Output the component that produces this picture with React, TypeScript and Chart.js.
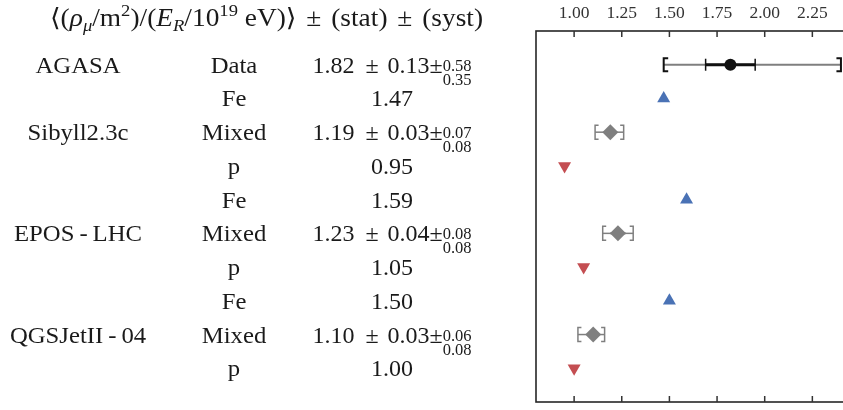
import { useEffect, useRef } from "react";
import { Chart, registerables } from "chart.js";

Chart.register(...registerables);

// ---------- data ----------
const modelNames = ["AGASA", "Sibyll2.3c", "EPOS\u2009-\u2009LHC", "QGSJetII\u2009-\u200904"];
const modelRows = [0, 2, 5, 8];
const rowLabels = ["Data", "Fe", "Mixed", "p", "Fe", "Mixed", "p", "Fe", "Mixed", "p"];
const rowValues = [1.82, 1.47, 1.19, 0.95, 1.59, 1.23, 1.05, 1.5, 1.1, 1.0];
const rowStat = [0.13, null, 0.03, null, null, 0.04, null, null, 0.03, null];
const rowSystUp = [0.58, null, 0.07, null, null, 0.08, null, null, 0.06, null];
const rowSystDown = [0.35, null, 0.08, null, null, 0.08, null, null, 0.08, null];
const xTicks = [1.0, 1.25, 1.5, 1.75, 2.0, 2.25];

const BLUE = "#4a72b5";
const RED = "#c44e52";
const GRAY = "#7f7f7f";
const INK = "#1a1a1a";
const FONT = '"Liberation Serif", "DejaVu Serif", serif';

type Run =
  | { t: string; size: number; italic?: boolean; dy?: number }
  | { gap: number }
  | { sup: string; sub: string; size: number; supDy: number; subDy: number };

function fontOf(size: number, italic?: boolean) {
  return `${italic ? "italic " : ""}${size}px ${FONT}`;
}

function runWidth(ctx: CanvasRenderingContext2D, r: Run): number {
  if ("gap" in r) return r.gap;
  if ("sup" in r) {
    ctx.font = fontOf(r.size);
    return Math.max(ctx.measureText(r.sup).width, ctx.measureText(r.sub).width);
  }
  ctx.font = fontOf(r.size, r.italic);
  return ctx.measureText(r.t).width;
}

function drawRuns(
  ctx: CanvasRenderingContext2D,
  runs: Run[],
  cx: number,
  baseline: number,
  sx: number = 1
) {
  const total = runs.reduce((s, r) => s + runWidth(ctx, r), 0);
  ctx.save();
  ctx.translate(cx, baseline);
  ctx.scale(sx, 1);
  let x = -total / 2;
  ctx.textAlign = "left";
  ctx.textBaseline = "alphabetic";
  ctx.fillStyle = INK;
  for (const r of runs) {
    const w = runWidth(ctx, r);
    if ("sup" in r) {
      ctx.font = fontOf(r.size);
      ctx.fillText(r.sup, x, r.supDy);
      ctx.fillText(r.sub, x, r.subDy);
    } else if ("t" in r) {
      ctx.font = fontOf(r.size, r.italic);
      ctx.fillText(r.t, x, r.dy || 0);
    }
    x += w;
  }
  ctx.restore();
}

const tablePlugin = {
  id: "tablePlugin",
  afterDraw(chart: any) {
    const ctx: CanvasRenderingContext2D = chart.ctx;
    const ys = chart.scales.y;
    ctx.save();
    const T = 25;
    const S = 17;
    const title: Run[] = [
      { t: "\u27E8(", size: T },
      { t: "\u03C1", size: T, italic: true },
      { t: "\u03BC", size: S, italic: true, dy: 5 },
      { t: "/m", size: T },
      { t: "2", size: S, dy: -10 },
      { t: ")/(", size: T },
      { t: "E", size: T, italic: true },
      { t: "R", size: S, italic: true, dy: 5 },
      { t: "/10", size: T },
      { t: "19", size: S, dy: -10 },
      { t: " eV)\u27E9", size: T },
      { gap: 9 },
      { t: "\u00B1", size: T },
      { gap: 9 },
      { t: "(stat)", size: T },
      { gap: 9 },
      { t: "\u00B1", size: T },
      { gap: 9 },
      { t: "(syst)", size: T },
    ];
    drawRuns(ctx, title, 266.5, 25.5, 1.095);

    const F = 24;
    modelRows.forEach((row, k) => {
      const y = ys.getPixelForValue(row);
      drawRuns(ctx, [{ t: modelNames[k], size: F }], 78, y + 8, 1.03);
    });
    rowLabels.forEach((lab, i) => {
      const y = ys.getPixelForValue(i);
      drawRuns(ctx, [{ t: lab, size: F }], 234, y + 8, 1.03);
      const v = rowValues[i].toFixed(2);
      let runs: Run[];
      if (rowStat[i] != null) {
        runs = [
          { t: v, size: F },
          { gap: 11 },
          { t: "\u00B1", size: F },
          { gap: 9 },
          { t: (rowStat[i] as number).toFixed(2), size: F },
          { t: "\u00B1", size: F },
          {
            sup: (rowSystUp[i] as number).toFixed(2),
            sub: (rowSystDown[i] as number).toFixed(2),
            size: 16.5,
            supDy: -2,
            subDy: 12,
          },
        ];
      } else {
        runs = [{ t: v, size: F }];
      }
      drawRuns(ctx, runs, 392, y + 8);
    });
    ctx.restore();
  },
};

const errorBarPlugin = {
  id: "errorBarPlugin",
  beforeDatasetsDraw(chart: any) {
    const ctx: CanvasRenderingContext2D = chart.ctx;
    const xs = chart.scales.x;
    const ys = chart.scales.y;
    ctx.save();
    const line = (x1: number, y1: number, x2: number, y2: number) => {
      ctx.beginPath();
      ctx.moveTo(x1, y1);
      ctx.lineTo(x2, y2);
      ctx.stroke();
    };
    rowLabels.forEach((lab, i) => {
      if (rowSystUp[i] == null) return;
      const isData = lab === "Data";
      const v = rowValues[i];
      const y = ys.getPixelForValue(i);
      const lo = xs.getPixelForValue(v - (rowSystDown[i] as number));
      const hi = xs.getPixelForValue(v + (rowSystUp[i] as number));
      const slo = xs.getPixelForValue(v - (rowStat[i] as number));
      const shi = xs.getPixelForValue(v + (rowStat[i] as number));
      // syst line
      ctx.strokeStyle = GRAY;
      ctx.lineWidth = isData ? 2 : 1.5;
      line(lo, y, hi, y);
      // brackets
      const h = isData ? 6.5 : 7;
      const s = isData ? 4.5 : 3.5;
      ctx.strokeStyle = isData ? "#111" : GRAY;
      ctx.lineWidth = isData ? 2 : 1.5;
      ctx.beginPath();
      ctx.moveTo(lo + s, y - h);
      ctx.lineTo(lo, y - h);
      ctx.lineTo(lo, y + h);
      ctx.lineTo(lo + s, y + h);
      ctx.moveTo(hi - s, y - h);
      ctx.lineTo(hi, y - h);
      ctx.lineTo(hi, y + h);
      ctx.lineTo(hi - s, y + h);
      ctx.stroke();
      // stat
      ctx.strokeStyle = isData ? "#111" : GRAY;
      ctx.lineWidth = isData ? 3 : 2;
      line(slo, y, shi, y);
      if (isData) {
        ctx.lineWidth = 1.5;
        line(slo, y - 6, slo, y + 6);
        line(shi, y - 6, shi, y + 6);
      }
    });
    ctx.restore();
  },
};

const framePlugin = {
  id: "framePlugin",
  afterDraw(chart: any) {
    const ctx: CanvasRenderingContext2D = chart.ctx;
    const a = chart.chartArea;
    const xs = chart.scales.x;
    ctx.save();
    ctx.strokeStyle = "#262626";
    ctx.lineWidth = 1.6;
    ctx.strokeRect(a.left, a.top, a.right - a.left, a.bottom - a.top);
    ctx.lineWidth = 1.5;
    ctx.strokeStyle = "#333";
    for (const t of xTicks) {
      const x = xs.getPixelForValue(t);
      ctx.beginPath();
      ctx.moveTo(x, a.top);
      ctx.lineTo(x, a.top + 6);
      ctx.moveTo(x, a.bottom);
      ctx.lineTo(x, a.bottom - 6);
      ctx.stroke();
    }
    ctx.restore();
  },
};

function pts(kind: string) {
  const out: { x: number; y: number }[] = [];
  rowLabels.forEach((l, i) => {
    if (l === kind) out.push({ x: rowValues[i], y: i });
  });
  return out;
}

export default function App() {
  const ref = useRef<HTMLCanvasElement | null>(null);
  useEffect(() => {
    if (!ref.current) return;
    const chart = new Chart(ref.current, {
      type: "scatter",
      data: {
        datasets: [
          {
            label: "Data",
            data: pts("Data"),
            pointStyle: "circle",
            pointRadius: 6,
            backgroundColor: "#111",
            borderColor: "#111",
            borderWidth: 0,
          },
          {
            label: "Fe",
            data: pts("Fe"),
            pointStyle: "triangle",
            pointRadius: 7.5,
            backgroundColor: BLUE,
            borderColor: BLUE,
            borderWidth: 0,
          },
          {
            label: "p",
            data: pts("p"),
            pointStyle: "triangle",
            pointRotation: 180,
            pointRadius: 7.5,
            backgroundColor: RED,
            borderColor: RED,
            borderWidth: 0,
          },
          {
            label: "Mixed",
            data: pts("Mixed"),
            pointStyle: "rectRot",
            pointRadius: 8,
            backgroundColor: GRAY,
            borderColor: GRAY,
            borderWidth: 0,
          },
        ],
      } as any,
      options: {
        animation: false,
        responsive: false,
        devicePixelRatio: 1,
        layout: { padding: { left: 536, right: 20, top: 0, bottom: 4 } },
        plugins: { legend: { display: false }, tooltip: { enabled: false } },
        scales: {
          x: {
            type: "linear",
            position: "top",
            min: 0.8,
            max: 2.5,
            grid: { display: false, drawTicks: false },
            border: { display: false },
            ticks: {
              font: { family: FONT, size: 17.5 },
              color: "#333",
              padding: 6.6,
              autoSkip: false,
              maxRotation: 0,
              callback: (v: any) => Number(v).toFixed(2),
            },
            afterBuildTicks: (s: any) => {
              s.ticks = xTicks.map((v) => ({ value: v }));
            },
            afterFit: (s: any) => {
              s.height = 31;
            },
          },
          y: { type: "linear", display: false, min: -1, max: 10, reverse: true },
        },
      } as any,
      plugins: [errorBarPlugin, framePlugin, tablePlugin],
    });
    return () => chart.destroy();
  }, []);
  return (
    <div
      style={{
        position: "fixed",
        left: 0,
        top: 0,
        width: 843,
        height: 410,
        overflow: "hidden",
        background: "#fff",
      }}
    >
      <canvas ref={ref} width={880} height={410} style={{ display: "block", width: 880, height: 410 }} />
    </div>
  );
}
